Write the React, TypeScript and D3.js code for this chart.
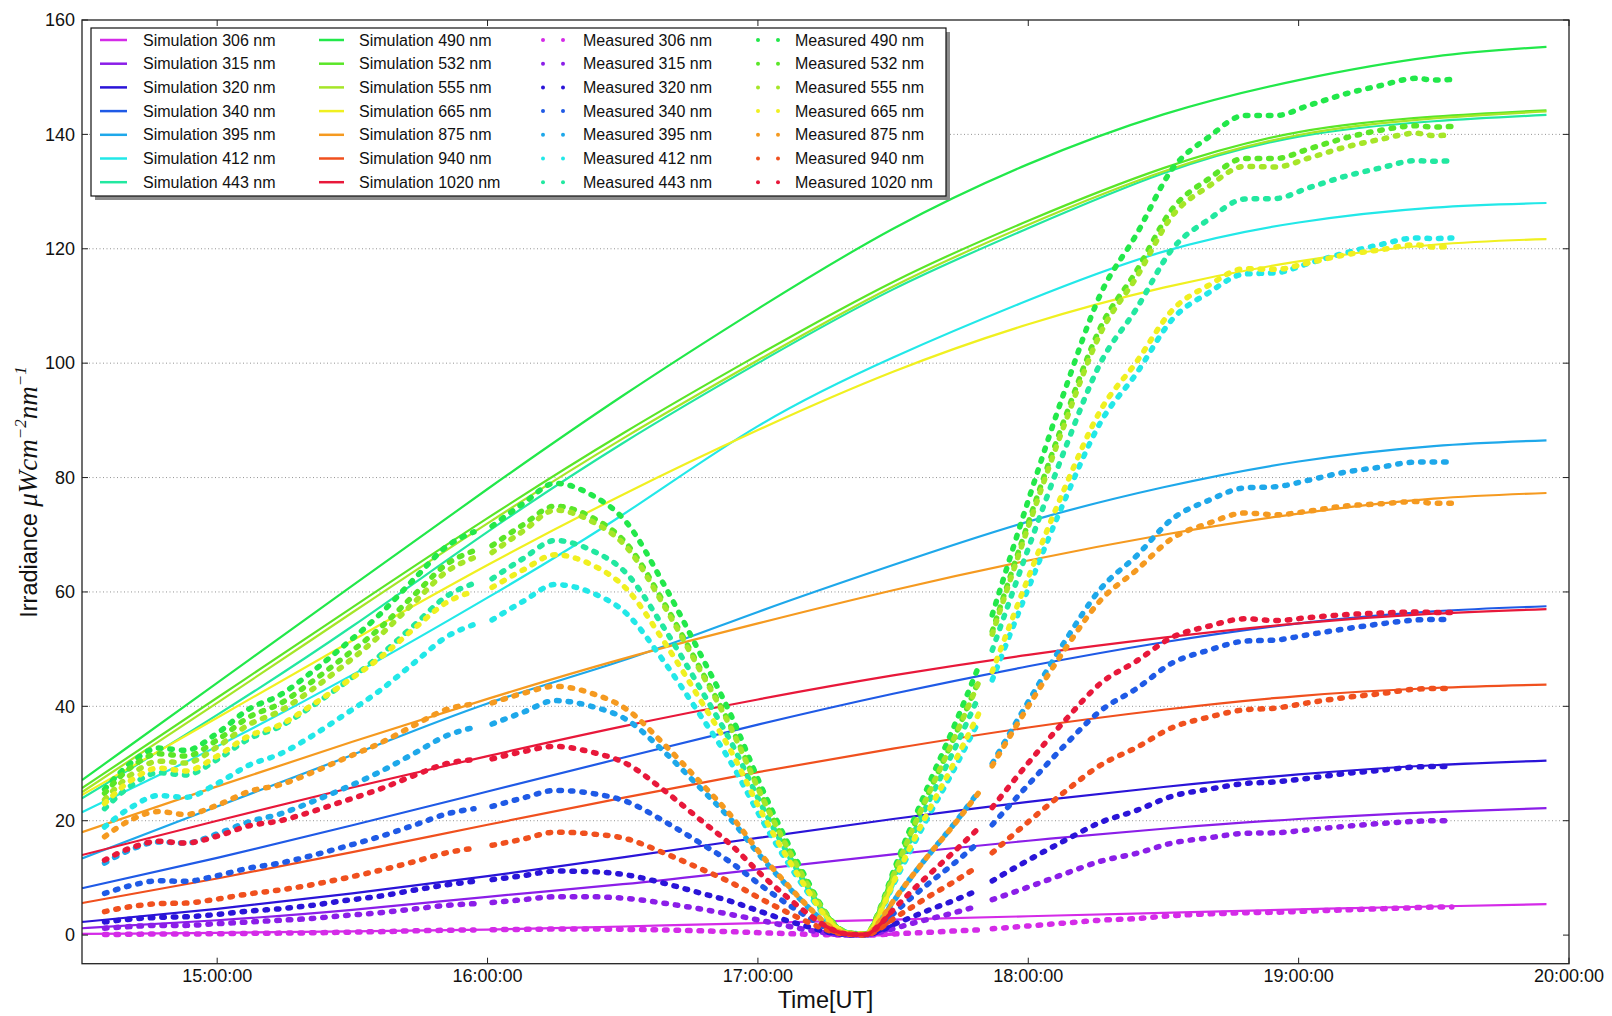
import React from "react";
import * as d3 from "d3";

const N = null;

// ---------- data ----------
const wavelengths = ["306", "315", "320", "340", "395", "412", "443", "490", "532", "555", "665", "875", "940", "1020"];
const colors = ["#d42be8", "#8b1ee8", "#2a14d8", "#1f5ae6", "#1ea8ea", "#22e8e8", "#22e8a0", "#22e84a", "#5ae628", "#a6e628", "#f0f020", "#f59a20", "#f0501e", "#e8183a"];

const simTimes = ["14:30", "15:00", "15:30", "16:00", "16:30", "17:00", "17:30", "18:00", "18:30", "19:00", "19:30", "19:55"];
const s306 = [0.2, 0.4, 0.65, 0.95, 1.5, 2.1, 2.7, 3.3, 3.9, 4.5, 5.0, 5.4];
const s315 = [1.2, 2.6, 4.4, 6.7, 8.9, 11.5, 14.1, 16.5, 18.6, 20.3, 21.5, 22.2];
const s320 = [2.3, 4.6, 7.3, 10.3, 13.6, 17, 20.3, 23.3, 25.9, 28.1, 29.7, 30.5];
const s340 = [8.2, 13.5, 19.2, 25.1, 31, 36.8, 42.2, 47, 51.2, 54.5, 56.6, 57.5];
const s395 = [13.4, 22.5, 31.5, 40.5, 48, 56.5, 64.7, 72.3, 78.3, 82.8, 85.5, 86.5];
const s412 = [21.5, 33, 45.5, 59, 73.5, 89, 101, 111, 119.5, 124.6, 127.2, 128];
const s443 = [23.9, 38.5, 54, 70.5, 86, 100, 112.9, 123.6, 133.2, 139.6, 142.3, 143.4];
const s490 = [27.1, 44.1, 61.1, 78, 94.3, 109.5, 123.5, 134.8, 143.5, 149.5, 153.6, 155.3];
const s532 = [25.7, 41.5, 57.3, 72.9, 87.7, 101.4, 114.2, 124.9, 134.1, 140.4, 143.1, 144.2];
const s555 = [25, 40.6, 56.4, 72, 86.8, 100.5, 113.4, 124.2, 133.5, 139.9, 142.8, 144];
const s665 = [24.5, 38, 51.5, 64.7, 77, 88.3, 98.5, 106.8, 113.2, 117.8, 120.7, 121.7];
const s875 = [18, 26, 33.8, 41.3, 48.3, 54.5, 60.3, 65.5, 70, 73.7, 76.3, 77.3];
const s940 = [5.6, 9.9, 14.5, 19.3, 24, 28.5, 32.6, 36.3, 39.4, 41.8, 43.2, 43.8];
const s1020 = [14, 20, 25.8, 31.3, 36.5, 41.2, 45.4, 49, 52, 54.5, 56.2, 57];

const measTimes = ["14:35", "14:41", "14:47", "14:53", "15:00", "15:07", "15:14", "15:21", "15:28", "15:36", "15:44", "15:51", "15:57", N,
  "16:01", "16:08", "16:15", "16:23", "16:31", "16:39", "16:47", "16:54", "17:01", "17:07", "17:11", "17:15", "17:18", "17:21", "17:24", "17:27", "17:30", "17:34", "17:38", "17:43", "17:49", N,
  "17:52", "18:00", "18:08", "18:16", "18:24", "18:32", "18:40", "18:48", "18:55", "19:02", "19:10", "19:18", "19:26", "19:30", "19:34"];
const m306 = [0.1, 0.15, 0.2, 0.2, 0.25, 0.3, 0.35, 0.4, 0.5, 0.6, 0.75, 0.85, 0.9, N,
  0.95, 1.0, 1.05, 1.05, 1.0, 0.9, 0.75, 0.6, 0.4, 0.25, 0.15, 0.07, 0.02, 0, 0, 0.08, 0.2, 0.35, 0.5, 0.7, 0.9, N,
  1.1, 1.6, 2.1, 2.6, 2.9, 3.4, 3.7, 3.9, 4.0, 4.2, 4.4, 4.6, 4.8, 4.9, 4.9];
const m315 = [1.2, 1.5, 1.7, 1.7, 2, 2.3, 2.6, 2.9, 3.4, 3.9, 4.6, 5.2, 5.5, N,
  5.7, 6.2, 6.7, 6.7, 6.4, 5.6, 4.6, 3.6, 2.5, 1.5, 0.9, 0.4, 0.1, 0, 0, 0.5, 1.1, 2, 2.8, 3.8, 5.1, N,
  6.2, 8.4, 10.7, 12.9, 14.3, 16.1, 17, 17.8, 17.9, 18.4, 19, 19.5, 19.9, 20, 20];
const m320 = [2.3, 2.8, 3.1, 3.2, 3.6, 4.2, 4.6, 5.2, 6, 6.8, 7.9, 8.8, 9.4, N,
  9.7, 10.4, 11.2, 11.1, 10.5, 9.1, 7.4, 5.9, 4, 2.4, 1.5, 0.6, 0.2, 0, 0, 0.7, 1.8, 3.1, 4.4, 5.9, 7.9, N,
  9.5, 13.1, 16.5, 19.7, 21.8, 24.3, 25.5, 26.5, 26.8, 27.4, 28.2, 28.8, 29.4, 29.5, 29.5];
const m340 = [7.3, 8.7, 9.5, 9.4, 10.4, 11.7, 12.6, 13.9, 15.4, 17.2, 19.3, 21.2, 22.1, N,
  22.5, 24, 25.3, 24.8, 23.3, 20, 16.2, 12.7, 8.5, 5.2, 3.2, 1.3, 0.4, 0.1, 0.1, 1.5, 3.7, 6.5, 9.1, 12.2, 16.2, N,
  19.3, 26.3, 33.1, 39.2, 43.1, 47.6, 49.8, 51.4, 51.6, 52.5, 53.5, 54.4, 55.1, 55.2, 55.2];
const m395 = [12.6, 15, 16.3, 16.1, 17.7, 19.8, 21.2, 23.3, 25.6, 28.5, 31.9, 34.9, 36.3, N,
  36.9, 39, 41, 40, 37.6, 32.2, 25.9, 20.2, 13.4, 8.2, 5, 2.1, 0.6, 0.2, 0.1, 2.4, 5.8, 10.1, 14.1, 18.9, 25.1, N,
  30, 40.8, 51.2, 60.5, 66.3, 72.8, 76, 78.2, 78.4, 79.5, 80.9, 81.8, 82.7, 82.7, 82.7];
const m412 = [18.9, 22.4, 24.4, 24.1, 26.5, 29.7, 31.7, 34.8, 38.4, 42.7, 47.8, 52.2, 54.3, N,
  55.1, 58.4, 61.3, 59.9, 56.1, 48, 38.7, 30.2, 20, 12.2, 7.5, 3.2, 0.9, 0.2, 0.2, 3.6, 8.7, 15, 21, 28.2, 37.4, N,
  44.6, 60.6, 75.9, 89.6, 98.2, 107.7, 112.3, 115.6, 115.8, 117.4, 119.2, 120.7, 121.9, 121.8, 121.9];
const m443 = [22.1, 26.2, 28.4, 28, 30.7, 34.3, 36.5, 40, 43.9, 48.8, 54.4, 59.3, 61.5, N,
  62.3, 65.9, 69, 67.3, 63.1, 53.9, 43.4, 33.8, 22.4, 13.7, 8.4, 3.5, 1.1, 0.3, 0.2, 4, 9.7, 16.8, 23.5, 31.5, 41.7, N,
  49.8, 67.6, 84.7, 100, 109.5, 120, 125.1, 128.7, 128.8, 130.6, 132.6, 134.1, 135.4, 135.3, 135.4];
const m490 = [25.5, 30.2, 32.7, 32.3, 35.3, 39.5, 42, 46, 50.5, 56, 62.5, 68, 70.5, N,
  71.5, 75.5, 79, 77, 72, 61.5, 49.5, 38.5, 25.5, 15.5, 9.5, 4, 1.2, 0.3, 0.2, 4.5, 11, 19, 26.5, 35.5, 47, N,
  56, 76, 95, 112, 122.5, 134, 139.5, 143.3, 143.3, 145, 147, 148.5, 149.8, 149.5, 149.6];
const m532 = [24.8, 29.4, 31.7, 31.3, 34.1, 38.1, 40.5, 44.3, 48.5, 53.6, 59.7, 64.9, 67.2, N,
  68.1, 71.8, 75, 73.1, 68.3, 58.3, 46.9, 36.5, 24.2, 14.7, 9, 3.8, 1.1, 0.3, 0.2, 4.3, 10.4, 18, 25.1, 33.6, 44.5, N,
  53.1, 72.1, 90.1, 106.2, 116.1, 127, 132.2, 135.8, 135.8, 137.4, 139.3, 140.7, 141.5, 141.3, 141.4];
const m555 = [23.7, 28.1, 30.4, 30.1, 32.9, 36.8, 39.2, 42.9, 47.1, 52.3, 58.4, 63.6, 66, N,
  66.9, 70.7, 74.3, 72.4, 67.7, 57.8, 46.5, 36.2, 24, 14.6, 8.9, 3.8, 1.1, 0.3, 0.2, 4.2, 10.3, 17.9, 24.9, 33.4, 44.2, N,
  52.6, 71.4, 89.2, 105.2, 115, 125.8, 130.9, 134.4, 134.3, 135.8, 137.7, 139.1, 140.2, 139.8, 139.9];
const m665 = [23, 27.1, 29.2, 28.7, 31.3, 34.8, 36.8, 40.2, 43.9, 48.4, 53.8, 58.2, 60.1, N,
  60.8, 63.9, 66.5, 64.8, 60.4, 51.5, 41.4, 32.2, 21.2, 12.9, 7.9, 3.3, 1, 0.2, 0.2, 3.7, 9.1, 15.7, 21.9, 29.3, 38.7, N,
  46.1, 62.5, 78, 91.7, 100.2, 109.3, 113.6, 116.5, 116.4, 117.5, 118.9, 119.8, 120.7, 120.3, 120.4];
const m875 = [17.2, 20.2, 21.6, 21.1, 22.7, 25.1, 26.3, 28.4, 30.8, 33.5, 36.8, 39.5, 40.4, N,
  40.6, 42.3, 43.5, 42.3, 39.4, 33.5, 26.9, 20.9, 13.8, 8.4, 5.1, 2.1, 0.6, 0.2, 0.1, 2.4, 5.9, 10.1, 14.1, 18.8, 24.9, N,
  29.6, 40, 49.8, 58.5, 63.8, 69.4, 72, 73.8, 73.5, 74.1, 75, 75.4, 75.8, 75.5, 75.5];
const m940 = [4.1, 5, 5.5, 5.6, 6.3, 7.2, 7.9, 8.8, 9.9, 11.3, 12.9, 14.4, 15.2, N,
  15.7, 16.8, 18, 17.7, 16.8, 14.4, 11.7, 9.2, 6.2, 3.8, 2.3, 1, 0.3, 0.1, 0, 1.1, 2.8, 4.8, 6.8, 9.1, 12.1, N,
  14.4, 19.8, 25, 29.7, 32.8, 36.3, 38.1, 39.4, 39.7, 40.6, 41.5, 42.2, 43, 43.1, 43.1];
const m1020 = [13.1, 15.3, 16.4, 16.1, 17.3, 19.1, 20, 21.6, 23.4, 25.5, 28, 30, 30.7, N,
  30.8, 32.1, 33, 32, 29.9, 25.4, 20.3, 15.8, 10.4, 6.3, 3.8, 1.6, 0.5, 0.1, 0.1, 1.8, 4.4, 7.6, 10.6, 14.2, 18.7, N,
  22.3, 30.1, 37.4, 44, 47.9, 52.1, 54, 55.3, 55, 55.5, 56, 56.3, 56.5, 56.4, 56.4];

const simSeries = [s306, s315, s320, s340, s395, s412, s443, s490, s532, s555, s665, s875, s940, s1020];
const measSeries = [m306, m315, m320, m340, m395, m412, m443, m490, m532, m555, m665, m875, m940, m1020];

// totality window where the measured samples are dense (drawn solid)
const denseWindow = ["17:15", "17:30"];

const xTickTimes = ["15:00", "16:00", "17:00", "18:00", "19:00", "20:00"];
const yTicks = [0, 20, 40, 60, 80, 100, 120, 140, 160];

function toDate(s: string | null): Date | null {
  if (!s) return null;
  const [h, m] = s.split(":").map(Number);
  return new Date(Date.UTC(2017, 7, 21, h, m));
}

const FONT = "'Liberation Sans', Arial, Helvetica, sans-serif";
const SERIF = "'Liberation Serif', 'DejaVu Serif', serif";

export default function App() {
  const W = 1612, H = 1016;
  const left = 82, right = 1569, top = 20, bottom = 963.7;
  const x = d3.scaleUtc().domain([toDate("14:30") as Date, toDate("20:00") as Date]).range([left, right]);
  const y = d3.scaleLinear().domain([-5, 160]).range([bottom, top]);
  const fmt = d3.utcFormat("%H:%M:%S");

  const simLine = d3.line<[Date, number]>().x(d => x(d[0])).y(d => y(d[1])).curve(d3.curveNatural);
  const measLine = d3.line<[Date | null, number | null]>()
    .defined(d => d[0] != null && d[1] != null)
    .x(d => x(d[0] as Date)).y(d => y(d[1] as number)).curve(d3.curveMonotoneX);

  const simDates = simTimes.map(t => toDate(t) as Date);
  const measDates = measTimes.map(t => toDate(t));
  const d0 = toDate(denseWindow[0]) as Date, d1 = toDate(denseWindow[1]) as Date;

  const gridTicks = yTicks.filter(v => v > 0 && v < 160);

  const lgX = 91, lgY = 28, lgW = 855, lgH = 168;
  const rowY = (i: number) => 40 + i * 23.7;
  const cols = [
    { kind: "sim", h0: 100, h1: 127, tx: 143, offset: 0 },
    { kind: "sim", h0: 319, h1: 344, tx: 359, offset: 7 },
    { kind: "meas", h0: 543, h1: 563, tx: 583, offset: 0 },
    { kind: "meas", h0: 758, h1: 778, tx: 795, offset: 7 },
  ];

  return (
    <svg width={W} height={H} style={{ position: "absolute", left: 0, top: 0, display: "block", background: "#fff" }} fontFamily={FONT}>
      <rect x={0} y={0} width={W} height={H} fill="#fff" />
      <defs>
        <clipPath id="plotclip">
          <rect x={left} y={top} width={right - left} height={bottom - top} />
        </clipPath>
      </defs>
      {gridTicks.map(v => (
        <line key={"g" + v} x1={left} x2={right} y1={y(v)} y2={y(v)} stroke="#888" strokeWidth={0.9} strokeDasharray="1,2.5" />
      ))}
      <g clipPath="url(#plotclip)">
        {simSeries.map((s, i) => (
          <path key={"s" + i} d={simLine(s.map((v, j) => [simDates[j], v] as [Date, number])) || ""} fill="none" stroke={colors[i]} strokeWidth={2.2} />
        ))}
        {measSeries.map((s, i) => {
          const pts = s.map((v, j) => [measDates[j], v] as [Date | null, number | null]);
          const dense = pts.filter(p => p[0] != null && p[1] != null && (p[0] as Date) >= d0 && (p[0] as Date) <= d1);
          return (
            <g key={"m" + i}>
              <path d={measLine(pts) || ""} fill="none" stroke={colors[i]} strokeWidth={5.5} strokeDasharray="2.5,9" strokeLinecap="round" />
              <path d={measLine(dense) || ""} fill="none" stroke={colors[i]} strokeWidth={3.5} strokeLinecap="round" strokeLinejoin="round" />
            </g>
          );
        })}
      </g>
      <rect x={left} y={top} width={right - left} height={bottom - top} fill="none" stroke="#222" strokeWidth={1.3} />
      {xTickTimes.map(t => {
        const d = toDate(t) as Date;
        const xx = x(d);
        return (
          <g key={"xt" + t}>
            <line x1={xx} x2={xx} y1={bottom} y2={bottom - 6} stroke="#222" strokeWidth={1} />
            <line x1={xx} x2={xx} y1={top} y2={top + 6} stroke="#222" strokeWidth={1} />
            <text x={xx} y={982} textAnchor="middle" fontSize={18} fill="#111">{fmt(d)}</text>
          </g>
        );
      })}
      {yTicks.map(v => (
        <g key={"yt" + v}>
          <line x1={left} x2={left + 6} y1={y(v)} y2={y(v)} stroke="#222" strokeWidth={1} />
          <line x1={right} x2={right - 6} y1={y(v)} y2={y(v)} stroke="#222" strokeWidth={1} />
          <text x={75} y={y(v)} dy="0.35em" textAnchor="end" fontSize={18} fill="#111">{v}</text>
        </g>
      ))}
      <text x={(left + right) / 2} y={1008} textAnchor="middle" fontSize={23.5} fill="#111">Time[UT]</text>
      <text transform={`translate(37,${492}) rotate(-90)`} textAnchor="middle" fill="#111">
        <tspan fontFamily={FONT} fontSize={23.5}>Irradiance </tspan>
        <tspan fontFamily={SERIF} fontStyle="italic" fontSize={27}>μWcm</tspan>
        <tspan fontFamily={SERIF} fontStyle="italic" fontSize={17} dy={-11}>−2</tspan>
        <tspan fontFamily={SERIF} fontStyle="italic" fontSize={27} dy={11}>nm</tspan>
        <tspan fontFamily={SERIF} fontStyle="italic" fontSize={17} dy={-11}>−1</tspan>
      </text>
      <rect x={lgX + 4} y={lgY + 4} width={lgW} height={lgH} fill="#8c8c8c" />
      <rect x={lgX} y={lgY} width={lgW} height={lgH} fill="#fff" stroke="#111" strokeWidth={1.2} />
      {cols.map((c, ci) =>
        wavelengths.slice(c.offset, c.offset + 7).map((wl, ri) => {
          const idx = c.offset + ri;
          const yy = rowY(ri);
          return (
            <g key={"lg" + ci + "-" + ri}>
              {c.kind === "sim" ? (
                <line x1={c.h0} x2={c.h1} y1={yy} y2={yy} stroke={colors[idx]} strokeWidth={2.5} />
              ) : (
                <g>
                  <circle cx={c.h0} cy={yy} r={2} fill={colors[idx]} />
                  <circle cx={c.h1} cy={yy} r={2} fill={colors[idx]} />
                </g>
              )}
              <text x={c.tx} y={yy} dy="0.35em" fontSize={16} fill="#111">
                {(c.kind === "sim" ? "Simulation " : "Measured ") + wl + " nm"}
              </text>
            </g>
          );
        })
      )}
    </svg>
  );
}
